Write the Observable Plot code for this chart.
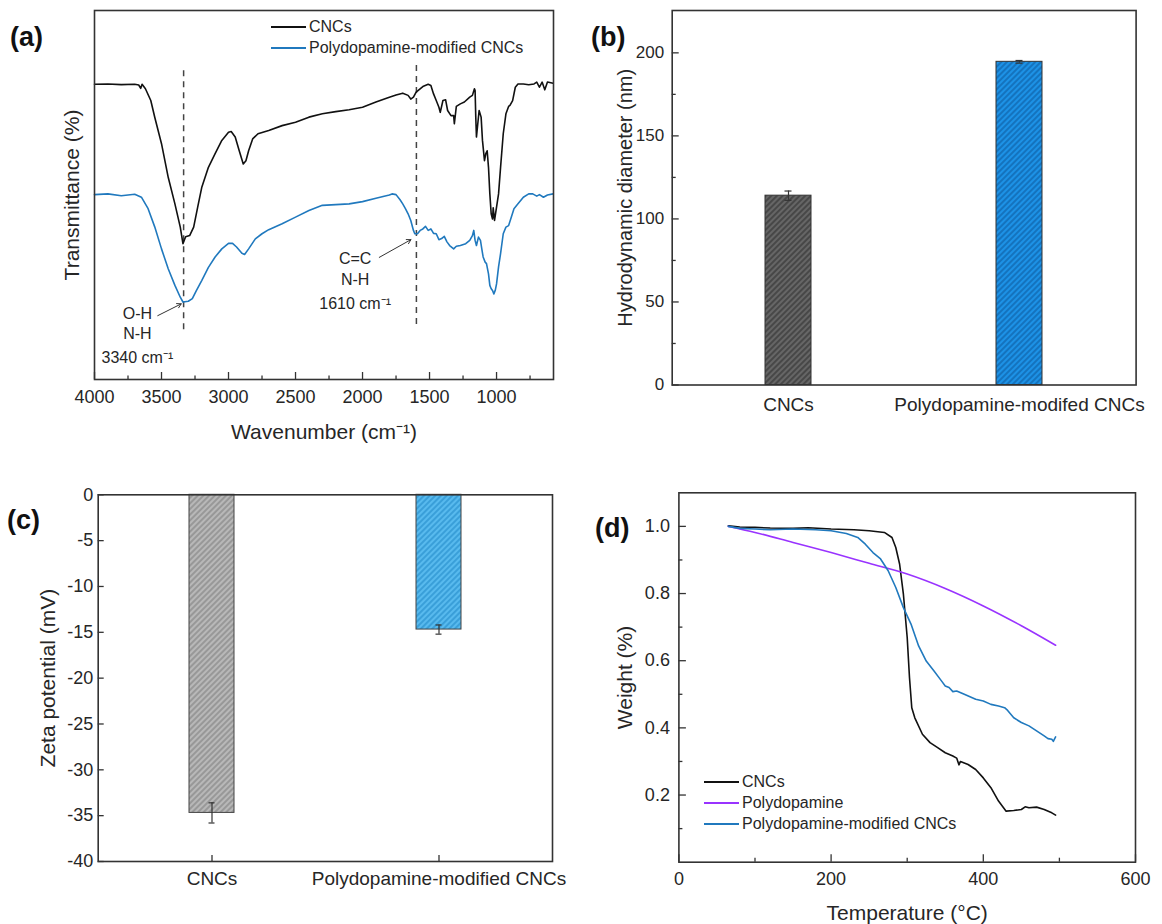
<!DOCTYPE html>
<html><head><meta charset="utf-8">
<script src="https://cdn.jsdelivr.net/npm/d3@7"></script>
<script src="https://cdn.jsdelivr.net/npm/@observablehq/plot@0.6"></script>
<style>
body{margin:0;background:#fff;}
#fig{position:relative;width:1162px;height:924px;overflow:hidden;font-family:"Liberation Sans",Arial,Helvetica,sans-serif;color:#262626;background:#fff;}
#fig svg{position:absolute;}
.plbl{position:absolute;font-weight:bold;font-size:27px;line-height:28px;color:#111;}
.legend{position:absolute;font-size:16px;line-height:21px;white-space:nowrap;}
.legend .row{display:flex;align-items:center;height:21px;}
.legend .sw{display:inline-block;width:35px;height:0;border-top:2px solid;margin-right:3px;}
</style></head><body><div id="fig"></div>
<script>
// ---------- (a) FTIR ----------
const ftirCNCs = [[4000,80],[3900,80.1],[3800,79.9],[3700,80],[3670,79.8],[3655,78.9],[3645,80],[3620,78.8],[3580,75.6],[3550,71],[3500,63.9],[3450,54.8],[3400,47.6],[3360,41.3],[3340,36.8],[3320,38.7],[3290,39],[3260,41.3],[3230,46.7],[3200,52],[3150,57.5],[3100,61.2],[3050,64.8],[3000,67],[2980,67.2],[2950,65.7],[2920,62],[2890,58.4],[2870,59.3],[2850,62],[2820,65.2],[2780,66.6],[2700,67.5],[2600,68.8],[2500,69.7],[2400,71.1],[2300,72],[2200,72.6],[2100,73.1],[2000,73.8],[1900,75.2],[1800,76.5],[1750,77.1],[1700,77.6],[1660,77],[1640,76],[1620,76.5],[1600,77.9],[1550,79.4],[1510,80],[1490,79.7],[1470,77.4],[1450,75.6],[1430,73.8],[1420,72.4],[1400,75.6],[1380,75.8],[1365,72.9],[1340,71.5],[1320,71.5],[1315,69.3],[1300,74],[1270,74.7],[1240,75.2],[1200,76.5],[1180,77],[1165,78.8],[1160,78.3],[1155,71.1],[1150,65.7],[1140,69.3],[1130,72.9],[1115,71.1],[1105,64.8],[1090,59.3],[1080,61.2],[1070,62],[1060,57.5],[1050,50.3],[1040,44.9],[1030,43.5],[1025,46.5],[1015,43.1],[1000,46.7],[985,50.3],[970,57.5],[950,66.6],[930,72],[910,74],[900,74.3],[880,75.6],[860,79.2],[840,80.1],[800,80.1],[760,79.9],[720,80.1],[700,80.6],[680,79.2],[660,80.6],[640,78.5],[620,80.6],[578,80.3]];
const ftirPDACNCs = [[4000,50.1],[3900,50.3],[3800,49.8],[3700,50.2],[3650,49.4],[3600,46.3],[3550,41.3],[3500,35.4],[3450,30],[3400,25.5],[3360,22.3],[3340,21],[3300,21.2],[3270,21.9],[3240,24.1],[3200,26.8],[3150,30.4],[3100,33.2],[3050,35.4],[3000,36.9],[2970,36.9],[2940,35.9],[2900,34.2],[2880,33.9],[2850,35.4],[2800,38.1],[2750,39.5],[2700,40.6],[2600,42.2],[2500,44],[2400,45.8],[2300,47.2],[2200,47.4],[2100,47.6],[2000,48.2],[1900,49.1],[1800,50],[1780,50.3],[1750,50.1],[1720,48.7],[1700,47.6],[1680,46.3],[1660,44.9],[1640,43.1],[1620,40.4],[1610,39.5],[1590,39.5],[1570,40.4],[1550,40.8],[1530,41.5],[1510,40.4],[1490,40.8],[1470,39.6],[1450,39.5],[1430,37.9],[1410,38.2],[1390,38.8],[1370,37.3],[1350,36.3],[1320,35.4],[1300,36.1],[1270,36.3],[1230,36.8],[1200,37.7],[1180,39],[1170,40.4],[1160,37.7],[1150,36.3],[1135,38.6],[1120,37.7],[1110,35.4],[1100,33.2],[1085,31.8],[1075,31.4],[1060,28.6],[1050,25.5],[1040,24.6],[1030,24.1],[1020,23.2],[1010,24.1],[1000,25.9],[985,30.5],[970,34.1],[950,39.5],[930,41.3],[910,41.7],[890,44],[870,46.3],[840,47.6],[800,49.4],[760,50.3],[730,50.3],[700,49.7],[680,50.1],[650,49.4],[620,50],[578,50.3]];
const ftirSeries = ["CNCs", "Polydopamine-modified CNCs"];
const ftirTicksMajor = [4000,3500,3000,2500,2000,1500,1000];
const ftirTicksMinor = [3750,3250,2750,2250,1750,1250,750];
const ftirBandLines = [{x:3335,y1:83.7,y2:12.5},{x:1598,y1:85.1,y2:13.8}];
const ftirNotes = [{x:3680,y:17.9,t:"O-H"},{x:3680,y:12.5,t:"N-H"},{x:3680,y:5.8,t:"3340 cm⁻¹"},{x:2055,y:32.8,t:"C=C"},{x:2055,y:27.1,t:"N-H"},{x:2055,y:20.6,t:"1610 cm⁻¹"}];
const ftirArrows = [{x1:3528,y1:17.3,x2:3353,y2:20.5},{x1:1875,y1:33.1,x2:1639,y2:37.9}];

// ---------- (b) DLS ----------
const dlsCategories = ["CNCs", "Polydopamine-modifed CNCs"];
const dlsDiameter = [114, 194.6];
const dlsError = [2.8, 0.8];
const dlsTicksMajor = [0,50,100,150,200];
const dlsTicksMinor = [25,75,125,175];

// ---------- (c) Zeta ----------
const zetaCategories = ["CNCs", "Polydopamine-modified CNCs"];
const zetaPotential = [-34.7, -14.7];
const zetaError = [1.1, 0.5];
const zetaTicks = [0,-5,-10,-15,-20,-25,-30,-35,-40];

// ---------- (d) TGA ----------
const tgaCNCs = [[65,1.002],[80,0.998],[100,0.997],[120,0.995],[150,0.994],[170,0.996],[200,0.992],[230,0.99],[250,0.987],[270,0.982],[280,0.967],[285,0.937],[290,0.888],[295,0.798],[300,0.669],[303,0.55],[306,0.46],[310,0.43],[320,0.381],[330,0.356],[340,0.341],[350,0.326],[360,0.316],[365,0.31],[368,0.29],[370,0.3],[380,0.291],[390,0.276],[400,0.251],[410,0.222],[420,0.182],[430,0.152],[440,0.154],[450,0.157],[455,0.165],[460,0.162],[470,0.164],[480,0.157],[490,0.147],[495,0.14]];
const tgaPDA = [[65,1.0],[100,0.982],[150,0.952],[200,0.922],[250,0.89],[300,0.858],[350,0.815],[400,0.763],[450,0.704],[495,0.646]];
const tgaPDACNCs = [[65,1.0],[80,0.994],[100,0.992],[120,0.99],[150,0.992],[180,0.99],[200,0.987],[220,0.979],[235,0.967],[245,0.947],[255,0.922],[265,0.903],[275,0.868],[285,0.818],[295,0.758],[305,0.709],[315,0.644],[325,0.599],[335,0.57],[345,0.54],[350,0.525],[355,0.52],[360,0.508],[365,0.51],[375,0.5],[390,0.485],[400,0.48],[410,0.47],[420,0.465],[428,0.46],[432,0.452],[440,0.43],[450,0.416],[460,0.406],[470,0.391],[480,0.376],[485,0.368],[490,0.366],[492,0.36],[495,0.373]];
const tgaSeries = ["CNCs", "Polydopamine", "Polydopamine-modified CNCs"];
const tgaTicksXMajor = [0,200,400,600];
const tgaTicksXMinor = [100,300,500];
const tgaTicksYMajor = [0.2,0.4,0.6,0.8,1.0];
const tgaTicksYMinor = [0.1,0.3,0.5,0.7,0.9];

// ---------- styling ----------
const FONT = "'Liberation Sans', Arial, Helvetica, sans-serif";
const INK = "#262626";
const FRAME = "#333";
const C_BLACK = "#111", C_BLUE = "#2079be", C_PURPLE = "#9933ff";
const style = {fontFamily: FONT, color: INK, background: "transparent", overflow: "visible"};
const fig = document.getElementById("fig");

function place(svg, left, top) { svg.style.left = left + "px"; svg.style.top = top + "px"; fig.appendChild(svg); }

function hatchDefs(list) {
  return () => {
    const ns = "http://www.w3.org/2000/svg";
    const defs = document.createElementNS(ns, "defs");
    for (const h of list) {
      const p = document.createElementNS(ns, "pattern");
      p.setAttribute("id", h.id); p.setAttribute("patternUnits", "userSpaceOnUse");
      p.setAttribute("width", 4); p.setAttribute("height", 4);
      p.setAttribute("patternTransform", "rotate(45)");
      const r = document.createElementNS(ns, "rect");
      r.setAttribute("width", 4); r.setAttribute("height", 4); r.setAttribute("fill", h.bg);
      const l = document.createElementNS(ns, "line");
      l.setAttribute("x1", 1); l.setAttribute("y1", 0); l.setAttribute("x2", 1); l.setAttribute("y2", 4);
      l.setAttribute("stroke", h.fg); l.setAttribute("stroke-width", 1.4);
      p.append(r, l); defs.append(p);
    }
    return defs;
  };
}

function addLabel(txt, left, top) {
  const d = document.createElement("div"); d.className = "plbl"; d.textContent = txt;
  d.style.left = left + "px"; d.style.top = top + "px"; fig.appendChild(d);
}
function addLegend(names, colors, left, top) {
  const d = document.createElement("div"); d.className = "legend";
  d.style.left = left + "px"; d.style.top = top + "px";
  names.forEach((n, i) => {
    const r = document.createElement("div"); r.className = "row";
    const s = document.createElement("span"); s.className = "sw"; s.style.borderColor = colors[i];
    const t = document.createElement("span"); t.textContent = n;
    r.append(s, t); d.appendChild(r);
  });
  fig.appendChild(d);
}
const yTitle = (t, dx, fs) => Plot.text([t], {frameAnchor: "left", dx, rotate: -90, fontSize: fs, fill: INK, textAnchor: "middle", lineAnchor: "middle"});
const xTitle = (t, dy, fs) => Plot.text([t], {frameAnchor: "bottom", dy, fontSize: fs, fill: INK, textAnchor: "middle", lineAnchor: "middle"});

// ---------- panel (a) ----------
{
  const W = 581, H = 460, mt = 10, mb = 81, ml = 94, mr = 28, ih = H - mt - mb;
  const svg = Plot.plot({
    width: W, height: H, marginTop: mt, marginBottom: mb, marginLeft: ml, marginRight: mr, style,
    x: {domain: [4000, 575]}, y: {domain: [0, 100], axis: null},
    marks: [
      Plot.ruleX(ftirBandLines, {x: "x", y1: "y1", y2: "y2", stroke: "#444", strokeWidth: 1.5, strokeDasharray: "6,5"}),
      Plot.line(ftirCNCs, {x: d => d[0], y: d => d[1], stroke: C_BLACK, strokeWidth: 1.6}),
      Plot.line(ftirPDACNCs, {x: d => d[0], y: d => d[1], stroke: C_BLUE, strokeWidth: 1.6}),
      Plot.arrow(ftirArrows, {x1: "x1", y1: "y1", x2: "x2", y2: "y2", stroke: "#333", strokeWidth: 1, headLength: 7}),
      Plot.text(ftirNotes, {x: "x", y: "y", text: "t", fontSize: 16, fill: INK}),
      Plot.tickX(ftirTicksMajor, {x: d => d, insetTop: ih - 7, stroke: FRAME, strokeWidth: 1.3}),
      Plot.tickX(ftirTicksMinor, {x: d => d, insetTop: ih - 3.5, stroke: FRAME, strokeWidth: 1.3}),
      Plot.axisX(ftirTicksMajor, {tickSize: 0, tickPadding: 11, fontSize: 18, label: null, tickFormat: d => String(d)}),
      xTitle("Wavenumber (cm⁻¹)", 53, 21),
      yTitle("Transmittance (%)", -22, 21),
      Plot.frame({stroke: FRAME, strokeWidth: 1.6})
    ]
  });
  place(svg, 0, 0);
  addLabel("(a)", 10, 23);
  addLegend(ftirSeries, [C_BLACK, C_BLUE], 271, 16);
}

// ---------- panel (b) ----------
{
  const W = 581, H = 460, mt = 10, mb = 75.5, ml = 90.7, mr = 26.4, iw = W - ml - mr;
  const data = dlsCategories.map((c, i) => ({cat: c, v: dlsDiameter[i], e: dlsError[i]}));
  const svg = Plot.plot({
    width: W, height: H, marginTop: mt, marginBottom: mb, marginLeft: ml, marginRight: mr, style,
    x: {domain: dlsCategories, paddingInner: 0.8, paddingOuter: 0.4, align: 0.5},
    y: {domain: [0, 225.5]},
    marks: [
      hatchDefs([{id: "hb1", bg: "#666", fg: "#3a3a3a"}, {id: "hb2", bg: "#1d92e6", fg: "#0f66ad"}]),
      Plot.barY(data.slice(0, 1), {x: "cat", y: "v", fill: "url(#hb1)", stroke: "#333", strokeWidth: 1}),
      Plot.barY(data.slice(1, 2), {x: "cat", y: "v", fill: "url(#hb2)", stroke: "#333", strokeWidth: 1}),
      Plot.ruleX(data, {x: "cat", y1: d => d.v - d.e, y2: d => d.v + d.e, stroke: "#333", strokeWidth: 1.2}),
      Plot.tickY(data, {x: "cat", y: d => d.v + d.e, insetLeft: 19.5, insetRight: 19.5, stroke: "#333", strokeWidth: 1.2}),
      Plot.tickY(data, {x: "cat", y: d => d.v - d.e, insetLeft: 19.5, insetRight: 19.5, stroke: "#333", strokeWidth: 1.2}),
      Plot.tickY(dlsTicksMajor, {y: d => d, insetRight: iw - 7, stroke: FRAME, strokeWidth: 1.3}),
      Plot.tickY(dlsTicksMinor, {y: d => d, insetRight: iw - 4, stroke: FRAME, strokeWidth: 1.3}),
      Plot.axisY(dlsTicksMajor, {tickSize: 0, tickPadding: 8, fontSize: 17, label: null, tickFormat: d => String(d)}),
      Plot.axisX({tickSize: 0, tickPadding: 12, fontSize: 19, label: null}),
      yTitle("Hydrodynamic diameter (nm)", -47, 20),
      Plot.frame({stroke: FRAME, strokeWidth: 1.6})
    ]
  });
  place(svg, 581, 0);
  addLabel("(b)", 591, 23);
}

// ---------- panel (c) ----------
{
  const W = 581, H = 464, mt = 34.3, mb = 63, ml = 97.7, mr = 29, iw = W - ml - mr, ih = H - mt - mb;
  const data = zetaCategories.map((c, i) => ({cat: c, v: zetaPotential[i], e: zetaError[i]}));
  const svg = Plot.plot({
    width: W, height: H, marginTop: mt, marginBottom: mb, marginLeft: ml, marginRight: mr, style,
    x: {domain: zetaCategories, paddingInner: 0.8, paddingOuter: 0.4, align: 0.5},
    y: {domain: [-40, 0]},
    marks: [
      hatchDefs([{id: "hc1", bg: "#b8b8b8", fg: "#8a8a8a"}, {id: "hc2", bg: "#58baee", fg: "#2c93d0"}]),
      Plot.barY(data.slice(0, 1), {x: "cat", y: "v", fill: "url(#hc1)", stroke: "#444", strokeWidth: 1}),
      Plot.barY(data.slice(1, 2), {x: "cat", y: "v", fill: "url(#hc2)", stroke: "#444", strokeWidth: 1}),
      Plot.ruleX(data, {x: "cat", y1: d => d.v - d.e, y2: d => d.v + d.e, stroke: "#333", strokeWidth: 1.2}),
      Plot.tickY(data, {x: "cat", y: d => d.v + d.e, insetLeft: 19.5, insetRight: 19.5, stroke: "#333", strokeWidth: 1.2}),
      Plot.tickY(data, {x: "cat", y: d => d.v - d.e, insetLeft: 19.5, insetRight: 19.5, stroke: "#333", strokeWidth: 1.2}),
      Plot.tickY(zetaTicks, {y: d => d, insetRight: iw - 6, stroke: FRAME, strokeWidth: 1.3}),
      Plot.tickX(zetaCategories, {x: d => d, insetTop: ih - 6, stroke: FRAME, strokeWidth: 1.3}),
      Plot.axisY(zetaTicks, {tickSize: 0, tickPadding: 5, fontSize: 18, label: null, tickFormat: d => String(d)}),
      Plot.axisX({tickSize: 0, tickPadding: 10, fontSize: 19, label: null}),
      yTitle("Zeta potential (mV)", -50, 21),
      Plot.frame({stroke: FRAME, strokeWidth: 1.6})
    ]
  });
  place(svg, 0, 460);
  addLabel("(c)", 7, 506);
}

// ---------- panel (d) ----------
{
  const W = 581, H = 464, mt = 32.3, mb = 62.3, ml = 97.4, mr = 27, iw = W - ml - mr, ih = H - mt - mb;
  const svg = Plot.plot({
    width: W, height: H, marginTop: mt, marginBottom: mb, marginLeft: ml, marginRight: mr, style,
    x: {domain: [0, 600]}, y: {domain: [0, 1.1]},
    marks: [
      Plot.line(tgaCNCs, {x: d => d[0], y: d => d[1], stroke: C_BLACK, strokeWidth: 1.6}),
      Plot.line(tgaPDA, {x: d => d[0], y: d => d[1], stroke: C_PURPLE, strokeWidth: 1.6, curve: "monotone-x"}),
      Plot.line(tgaPDACNCs, {x: d => d[0], y: d => d[1], stroke: C_BLUE, strokeWidth: 1.6}),
      Plot.tickX(tgaTicksXMajor, {x: d => d, insetTop: ih - 7.5, stroke: FRAME, strokeWidth: 1.3}),
      Plot.tickX(tgaTicksXMinor, {x: d => d, insetTop: ih - 4, stroke: FRAME, strokeWidth: 1.3}),
      Plot.tickY(tgaTicksYMajor, {y: d => d, insetRight: iw - 7.5, stroke: FRAME, strokeWidth: 1.3}),
      Plot.tickY(tgaTicksYMinor, {y: d => d, insetRight: iw - 4, stroke: FRAME, strokeWidth: 1.3}),
      Plot.axisX(tgaTicksXMajor, {tickSize: 0, tickPadding: 10, fontSize: 18, label: null, tickFormat: d => String(d)}),
      Plot.axisY(tgaTicksYMajor, {tickSize: 0, tickPadding: 9, fontSize: 18, label: null, tickFormat: d3.format(".1f")}),
      xTitle("Temperature (°C)", 51, 21),
      yTitle("Weight (%)", -54, 21),
      Plot.frame({stroke: FRAME, strokeWidth: 1.6})
    ]
  });
  place(svg, 581, 460);
  addLabel("(d)", 595, 514);
  addLegend(tgaSeries, [C_BLACK, C_PURPLE, C_BLUE], 704, 771);
}
</script></body></html>
